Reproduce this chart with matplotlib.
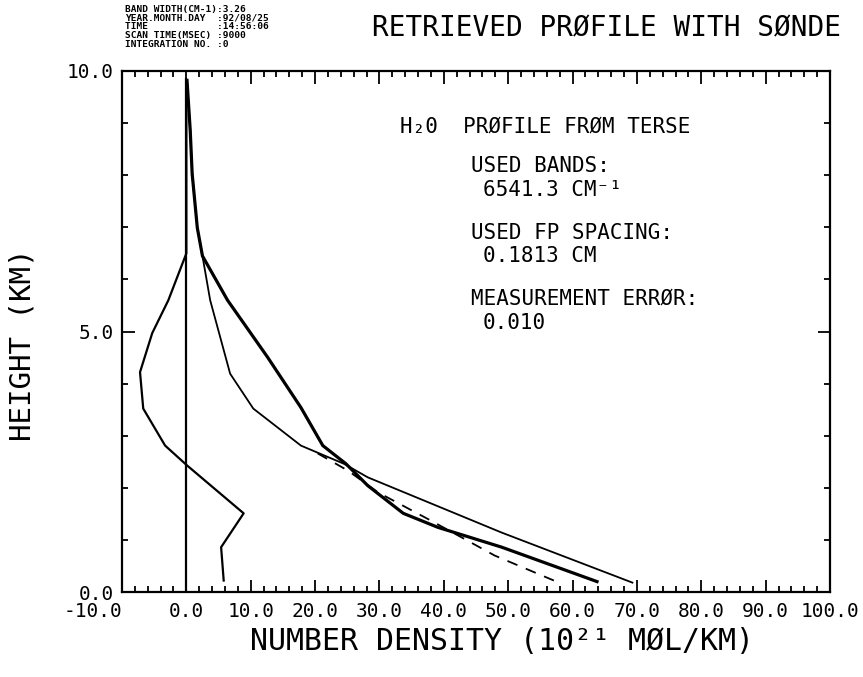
import matplotlib
matplotlib.use('Agg')
import matplotlib.pyplot as plt
from matplotlib.ticker import MultipleLocator, FormatStrFormatter

plt.rcParams['font.family'] = ['DejaVu Sans Mono', 'DejaVu Sans']

# zero line
zero_x = [0.0, 0.0]
zero_h = [0.0, 9.85]

# profile going negative
a_x = [0.0, 0.0, -2.8, -5.3, -7.2, -6.7, -3.3, 0.1, 8.9, 5.4, 5.8]
a_h = [9.8, 6.5, 5.6, 4.97, 4.22, 3.52, 2.81, 2.43, 1.51, 0.86, 0.22]

# thin retrieved profile
b_x = [0.1, 0.6, 0.9, 1.7, 2.5, 3.7, 6.8, 10.4, 17.8, 24.5, 28.2, 49.0, 69.3]
b_h = [9.82, 8.86, 8.03, 6.99, 6.45, 5.60, 4.19, 3.52, 2.81, 2.46, 2.20, 1.14, 0.18]

# thick retrieved profile
c_x = [0.1, 0.6, 0.9, 1.7, 2.5, 6.4, 12.6, 17.8, 21.2, 24.8, 28.2, 33.7, 39.1, 49.0, 63.8]
c_h = [9.82, 8.86, 8.03, 6.99, 6.45, 5.60, 4.51, 3.54, 2.81, 2.46, 2.04, 1.51, 1.24, 0.86, 0.20]

# sonde (dashed)
d_x = [20.4, 25.1, 29.8, 38.0, 47.9, 57.1]
d_h = [2.66, 2.33, 1.91, 1.37, 0.70, 0.22]

header = ["BAND WIDTH(CM-1):3.26",
          "YEAR.MONTH.DAY  :92/08/25",
          "TIME            :14:56:06",
          "SCAN TIME(MSEC) :9000",
          "INTEGRATION NO. :0"]

W, H = 863, 677
fig = plt.figure(figsize=(W / 100, H / 100), dpi=100)
ax = fig.add_axes([122 / W, 1 - 592 / H, 708 / W, 521 / H])

ax.plot(zero_x, zero_h, color='black', lw=1.6)
ax.plot(a_x, a_h, color='black', lw=1.6)
ax.plot(b_x, b_h, color='black', lw=1.3)
ax.plot(c_x, c_h, color='black', lw=2.3)
ax.plot(d_x, d_h, color='black', lw=1.3, dashes=(6, 5))

ax.set_xlim(-10, 100)
ax.set_ylim(0, 10)
ax.xaxis.set_major_locator(MultipleLocator(10))
ax.xaxis.set_minor_locator(MultipleLocator(2))
ax.yaxis.set_major_locator(MultipleLocator(5))
ax.yaxis.set_minor_locator(MultipleLocator(1))
ax.xaxis.set_major_formatter(FormatStrFormatter('%.1f'))
ax.yaxis.set_major_formatter(FormatStrFormatter('%.1f'))
ax.tick_params(which='both', direction='in', top=True, right=True,
               width=1.3, labelsize=14)
ax.tick_params(which='major', length=9)
ax.tick_params(axis='x', which='major', pad=7)
ax.tick_params(axis='y', which='major', pad=6)
ax.tick_params(which='minor', length=4)
for s in ax.spines.values():
    s.set_linewidth(1.6)

fig.canvas.draw()
xl = ax.get_xticklabels()
xl[1].set_ha('right')  # -10.0 sits left of its tick, as in the plot
ax.set_xticks(ax.get_xticks())
ax.set_xlim(-10, 100)

def px(x, y):
    return x / W, 1 - y / H

fig.text(*px(502, 641), 'NUMBER DENSITY (10²¹ MØL/KM)', fontsize=21.5,
         ha='center', va='center')
fig.text(*px(22, 345), 'HEIGHT (KM)', fontsize=21, rotation=90,
         ha='center', va='center')

for i, line in enumerate(header):
    fig.text(*px(125, 12 + i * 8.7), line, fontsize=6.8, fontweight='bold',
             va='baseline', ha='left')
fig.text(*px(372, 36), 'RETRIEVED PRØFILE WITH SØNDE', fontsize=20,
         va='baseline', ha='left')

fig.text(*px(400, 133), 'H₂0  PRØFILE FRØM TERSE', fontsize=15, va='baseline')
fig.text(*px(471, 172), 'USED BANDS:', fontsize=15, va='baseline')
fig.text(*px(483, 196), '6541.3 CM⁻¹', fontsize=15, va='baseline')
fig.text(*px(471, 239), 'USED FP SPACING:', fontsize=15, va='baseline')
fig.text(*px(483, 262), '0.1813 CM', fontsize=15, va='baseline')
fig.text(*px(471, 305), 'MEASUREMENT ERRØR:', fontsize=15, va='baseline')
fig.text(*px(483, 329), '0.010', fontsize=15, va='baseline')

fig.savefig('out.png', dpi=100)
